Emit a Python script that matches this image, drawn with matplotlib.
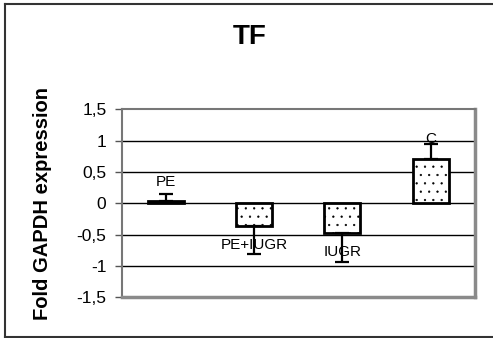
import numpy as np
import matplotlib
matplotlib.use("Agg")
import matplotlib.pyplot as plt
from matplotlib.lines import Line2D

plt.rcParams['font.family'] = ['Liberation Sans', 'DejaVu Sans']
plt.rcParams['hatch.linewidth'] = 0.4

# data
groups = ['PE', 'PE+IUGR', 'IUGR', 'C']
fold = [0.03, -0.36, -0.47, 0.71]
err = [0.12, 0.45, 0.47, 0.24]
ytick_vals = [-1.5, -1, -0.5, 0, 0.5, 1, 1.5]
ytick_text = ['-1,5', '-1', '-0,5', '0', '0,5', '1', '1,5']

fig = plt.figure(figsize=(4.93, 3.38), dpi=100)
ax = fig.add_axes([0.247, 0.12, 0.716, 0.557])

x = np.arange(len(groups)) + 0.5
bars = ax.bar(x, fold, width=0.41, color='white', edgecolor='black',
              linewidth=2.0, hatch='..', zorder=3)

# one-sided error bars, pointing away from zero
lower = [e if v < 0 else 0 for v, e in zip(fold, err)]
upper = [e if v >= 0 else 0 for v, e in zip(fold, err)]
ax.errorbar(x, fold, yerr=[lower, upper], fmt='none', ecolor='black',
            elinewidth=1.6, capsize=4.8, capthick=1.6, zorder=4)

# labels on each bar end, Excel style
for xi, v, g in zip(x, fold, groups):
    off = 14 if v >= 0 else -14
    ax.annotate(g, (xi, v), xytext=(0, off), textcoords='offset points',
                ha='center', va='center', fontsize=11, zorder=5)

ax.set_xlim(0, len(groups))
ax.set_ylim(-1.5, 1.5)
ax.set_yticks(ytick_vals)
ax.set_yticklabels(ytick_text, fontsize=12.5)
ax.set_xticks([])
ax.tick_params(axis='y', direction='out', length=5, width=1, pad=6, color='#555555')

for yv in [-1, -0.5, 0, 0.5, 1]:
    ax.axhline(yv, color='black', linewidth=1.0, zorder=1)

for side in ['left', 'top']:
    ax.spines[side].set_color('#777777')
    ax.spines[side].set_linewidth(1.5)
for side in ['right', 'bottom']:
    ax.spines[side].set_color('#8a8a8a')
    ax.spines[side].set_linewidth(2.5)

fig.text(250 / 493, 1 - 37 / 338, 'TF', ha='center', va='center',
         fontsize=20, fontweight='bold')
fig.text(43 / 493, 1 - 203 / 338, 'Fold GAPDH expression', rotation=90,
         ha='center', va='center', fontsize=14.5, fontweight='bold')

# outer chart border
W, H = 493, 338
fig.add_artist(Line2D([4.5 / W, 4.5 / W], [1 - 4 / H, 1 - 337 / H], color='#333333', lw=1.5))
fig.add_artist(Line2D([4.5 / W, 1.0], [1 - 4 / H, 1 - 4 / H], color='#333333', lw=1.5))
fig.add_artist(Line2D([4.5 / W, 1.0], [1 - 337 / H, 1 - 337 / H], color='#333333', lw=1.5))

fig.savefig('out.png', dpi=100)
